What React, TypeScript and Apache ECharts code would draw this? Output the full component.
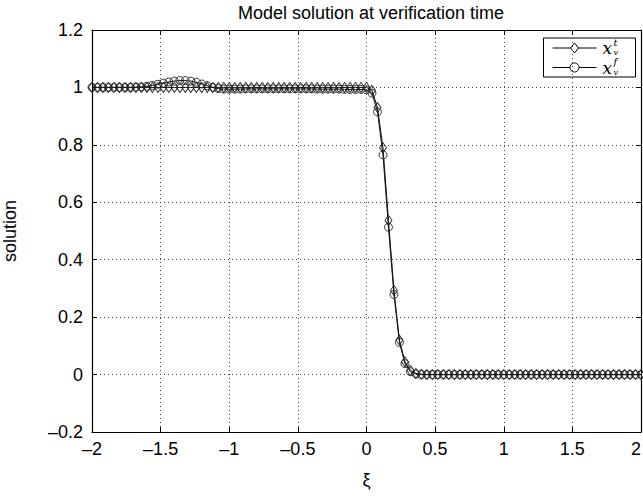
import React, { useEffect, useRef } from "react";
import * as echarts from "echarts";

const xi = [
  -2, -1.96, -1.92, -1.88, -1.84, -1.8, -1.76, -1.72, -1.68, -1.64,
  -1.6, -1.56, -1.52, -1.48, -1.44, -1.4, -1.36, -1.32, -1.28, -1.24,
  -1.2, -1.16, -1.12, -1.08, -1.04, -1, -0.96, -0.92, -0.88, -0.84,
  -0.8, -0.76, -0.72, -0.68, -0.64, -0.6, -0.56, -0.52, -0.48, -0.44,
  -0.4, -0.36, -0.32, -0.28, -0.24, -0.2, -0.16, -0.12, -0.08, -0.04,
  0, 0.04, 0.08, 0.12, 0.16, 0.2, 0.24, 0.28, 0.32, 0.36,
  0.4, 0.44, 0.48, 0.52, 0.56, 0.6, 0.64, 0.68, 0.72, 0.76,
  0.8, 0.84, 0.88, 0.92, 0.96, 1, 1.04, 1.08, 1.12, 1.16,
  1.2, 1.24, 1.28, 1.32, 1.36, 1.4, 1.44, 1.48, 1.52, 1.56,
  1.6, 1.64, 1.68, 1.72, 1.76, 1.8, 1.84, 1.88, 1.92, 1.96,
  2,
];

// x_v^t (diamonds)
const xvT = [
  1, 1, 1, 1, 1, 1, 1, 1, 1, 1,
  1, 1, 1, 1, 1, 1, 1, 1, 1, 1,
  1, 1, 1, 1, 1, 1, 1, 1, 1, 1,
  1, 1, 1, 1, 1, 1, 1, 1, 1, 1,
  1, 1, 1, 1, 1, 1, 1, 1, 1, 1,
  1, 0.99, 0.93, 0.79, 0.537, 0.293, 0.12, 0.045, 0.015, 0.004,
  0.001, 0, 0, 0, 0, 0, 0, 0, 0, 0,
  0, 0, 0, 0, 0, 0, 0, 0, 0, 0,
  0, 0, 0, 0, 0, 0, 0, 0, 0, 0,
  0, 0, 0, 0, 0, 0, 0, 0, 0, 0,
  0,
];

// x_v^f (circles)
const xvF = [
  1, 1, 1, 1, 1, 1, 1, 1, 1.001, 1.002,
  1.004, 1.007, 1.011, 1.015, 1.019, 1.022, 1.024, 1.024, 1.022, 1.018,
  1.012, 1.006, 1.0, 0.996, 0.994, 0.994, 0.994, 0.994, 0.995, 0.995,
  0.995, 0.995, 0.995, 0.995, 0.995, 0.995, 0.995, 0.995, 0.995, 0.995,
  0.995, 0.994, 0.994, 0.994, 0.994, 0.994, 0.993, 0.993, 0.993, 0.993,
  0.992, 0.98, 0.915, 0.765, 0.513, 0.279, 0.112, 0.038, 0.01, 0.002,
  0, 0, 0, 0, 0, 0, 0, 0, 0, 0,
  0, 0, 0, 0, 0, 0, 0, 0, 0, 0,
  0, 0, 0, 0, 0, 0, 0, 0, 0, 0,
  0, 0, 0, 0, 0, 0, 0, 0, 0, 0,
  0,
];

const FONT = "Liberation Sans";
const FS = 18;

export default function App() {
  const ref = useRef<HTMLDivElement>(null);
  useEffect(() => {
    document.body.style.margin = "0";
    const chart = echarts.init(ref.current!, null, { renderer: "svg" });
    const minus = (s: string) => s.replace("-", "\u2013");
    const fmtX = (v: number) => minus(String(parseFloat(v.toFixed(2))));
    const fmtY = (v: number) => minus(String(parseFloat(v.toFixed(1))));
    const gridLine = { show: true, lineStyle: { color: "#444", width: 1, type: [1, 3] as any } };
    const axisLine = { show: true, onZero: false, lineStyle: { color: "#000", width: 1.2 } };
    const tick = { show: true, inside: true, length: 5, lineStyle: { color: "#000", width: 1 } };
    const labelStyle = { fontFamily: FONT, fontSize: FS, color: "#000" };
    const sup = { font: "italic 10px 'DejaVu Serif'", fill: "#000", verticalAlign: "middle" };
    const sub = { font: "italic 8px 'DejaVu Serif'", fill: "#000", verticalAlign: "middle" };
    const xs = { font: "italic 17px 'DejaVu Serif'", fill: "#000", verticalAlign: "middle" };
    const r1 = 10;
    const r2 = 29.5;
    chart.setOption({
      animation: false,
      backgroundColor: "#fff",
      title: {
        text: "Model solution at verification time",
        left: 366,
        textAlign: "center",
        top: -1,
        textStyle: { fontFamily: FONT, fontSize: FS, fontWeight: "normal", color: "#000" },
      },
      grid: { left: 92, right: 2, top: 30, bottom: 65, outerBoundsMode: "none", containLabel: false },
      xAxis: [
        {
          type: "value",
          min: -2,
          max: 2,
          interval: 0.5,
          name: "\u03be",
          nameLocation: "middle",
          nameGap: 39,
          nameTextStyle: { fontFamily: FONT, fontSize: FS, color: "#000" },
          axisLine,
          axisTick: tick,
          splitLine: gridLine,
          axisLabel: { ...labelStyle, margin: 8, formatter: fmtX, alignMaxLabel: "right" },
        },
        {
          type: "value",
          position: "top",
          min: -2,
          max: 2,
          interval: 0.5,
          axisLine,
          axisTick: tick,
          splitLine: { show: false },
          axisLabel: { show: false },
        },
      ],
      yAxis: [
        {
          type: "value",
          min: -0.2,
          max: 1.2,
          interval: 0.2,
          name: "solution",
          nameLocation: "middle",
          nameGap: 73,
          nameTextStyle: { fontFamily: FONT, fontSize: FS, color: "#000" },
          axisLine,
          axisTick: tick,
          splitLine: gridLine,
          axisLabel: { ...labelStyle, margin: 9, formatter: fmtY },
        },
        {
          type: "value",
          position: "right",
          min: -0.2,
          max: 1.2,
          interval: 0.2,
          axisLine,
          axisTick: tick,
          splitLine: { show: false },
          axisLabel: { show: false },
        },
      ],
      series: [
        {
          name: "x_v^t",
          type: "line",
          data: xi.map((x, i) => [x, xvT[i]]),
          symbol: "diamond",
          symbolSize: [7, 10],
          showAllSymbol: true,
          itemStyle: { color: "rgba(0,0,0,0)", borderColor: "#222", borderWidth: 0.9 },
          lineStyle: { color: "#111", width: 1 },
          z: 3,
        },
        {
          name: "x_v^f",
          type: "line",
          data: xi.map((x, i) => [x, xvF[i]]),
          symbol: "circle",
          symbolSize: 8,
          showAllSymbol: true,
          itemStyle: { color: "rgba(0,0,0,0)", borderColor: "#222", borderWidth: 0.9 },
          lineStyle: { color: "#111", width: 1 },
          z: 3,
        },
      ],
      graphic: [
        {
          type: "group",
          left: 543,
          top: 37,
          z: 10,
          children: [
            { type: "rect", shape: { x: 0, y: 0, width: 92, height: 39 }, style: { fill: "#fff", stroke: "#000", lineWidth: 1 } },
            { type: "line", shape: { x1: 9, y1: r1, x2: 53, y2: r1 }, style: { stroke: "#000", lineWidth: 1 } },
            { type: "polygon", shape: { points: [[31, r1 - 5], [35, r1], [31, r1 + 5], [27, r1]] }, style: { fill: "#fff", stroke: "#000", lineWidth: 1 } },
            { type: "text", x: 59, y: r1, style: { ...xs, text: "x" } },
            { type: "text", x: 70, y: r1 - 6, style: { ...sup, text: "t" } },
            { type: "text", x: 70, y: r1 + 4.5, style: { ...sub, text: "v" } },
            { type: "line", shape: { x1: 9, y1: r2, x2: 53, y2: r2 }, style: { stroke: "#000", lineWidth: 1 } },
            { type: "circle", shape: { cx: 31, cy: r2, r: 4.5 }, style: { fill: "#fff", stroke: "#000", lineWidth: 1 } },
            { type: "text", x: 59, y: r2, style: { ...xs, text: "x" } },
            { type: "text", x: 70, y: r2 - 6, style: { ...sup, text: "f" } },
            { type: "text", x: 70, y: r2 + 4.5, style: { ...sub, text: "v" } },
          ],
        },
      ],
    });
    return () => chart.dispose();
  }, []);
  return <div ref={ref} style={{ width: 643, height: 497 }} />;
}
